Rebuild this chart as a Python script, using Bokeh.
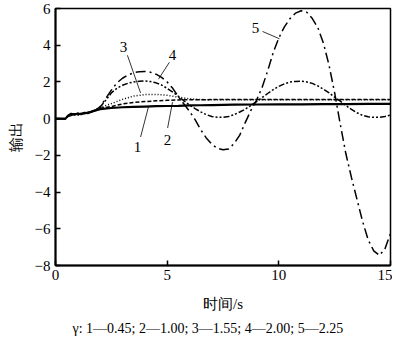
from bokeh.plotting import figure
from bokeh.models import Range1d, FixedTicker, Title
from bokeh.core.properties import value
from bokeh.embed import file_html
from bokeh.resources import INLINE

# ---- data ----
x_ticks = [0, 5, 10, 15]
y_ticks = [-8, -6, -4, -2, 0, 2, 4, 6]
y_tick_labels = ["\u22128", "\u22126", "\u22124", "\u22122", "0", "2", "4", "6"]

t_slow = [0, 0.45, 0.55, 0.7, 0.85, 1.0, 1.15, 1.3, 1.45, 1.6, 1.8, 2.0,
          2.5, 3.0, 3.5, 4.0, 4.5, 5.0, 5.5, 6.0, 6.5, 7.0, 8.0, 9.0,
          10.0, 11.0, 12.0, 13.0, 14.0, 15.0]

y1 = [0, 0, 0.15, 0.27, 0.22, 0.28, 0.24, 0.32, 0.30, 0.38, 0.45, 0.52,
      0.58, 0.62, 0.64, 0.66, 0.68, 0.69, 0.70, 0.72, 0.73, 0.74, 0.76, 0.77,
      0.78, 0.78, 0.79, 0.79, 0.80, 0.80]
y2 = [0, 0, 0.12, 0.17, 0.27, 0.20, 0.30, 0.26, 0.36, 0.35, 0.45, 0.56,
      0.66, 0.80, 0.88, 0.93, 0.97, 1.00, 1.02, 1.03, 1.03, 1.04, 1.04, 1.04,
      1.04, 1.04, 1.04, 1.04, 1.04, 1.04]
y3 = [0, 0, 0.15, 0.27, 0.22, 0.28, 0.24, 0.32, 0.30, 0.38, 0.46, 0.60,
      0.82, 1.05, 1.23, 1.31, 1.32, 1.27, 1.17, 1.08, 1.04, 1.03, 1.03, 1.03,
      1.03, 1.03, 1.03, 1.03, 1.03, 1.03]

t_fast = [0, 0.45, 0.55, 0.7, 0.85, 1.0, 1.15, 1.3, 1.45, 1.6, 1.8, 2.0,
          2.25, 2.5, 2.75, 3.0, 3.25, 3.5, 3.75, 4.0, 4.25, 4.5, 4.75, 5.0,
          5.25, 5.5, 5.75, 6.0, 6.25, 6.5, 6.75, 7.0, 7.25, 7.5, 7.75, 8.0,
          8.25, 8.5, 8.75, 9.0, 9.25, 9.5, 9.75, 10.0, 10.25, 10.5, 10.75, 11.0,
          11.25, 11.5, 11.75, 12.0, 12.25, 12.5, 12.75, 13.0, 13.25, 13.5, 13.75, 14.0,
          14.25, 14.5, 14.75, 15.0]

y4 = [0, 0, 0.12, 0.17, 0.27, 0.20, 0.30, 0.26, 0.36, 0.35, 0.47, 0.63,
      1.00, 1.40, 1.65, 1.82, 1.93, 2.00, 2.04, 2.05, 2.02, 1.95, 1.83, 1.65,
      1.45, 1.22, 0.97, 0.74, 0.55, 0.37, 0.22, 0.12, 0.07, 0.07, 0.12, 0.22,
      0.36, 0.52, 0.72, 0.93, 1.15, 1.37, 1.58, 1.76, 1.90, 1.99, 2.03, 2.04,
      2.00, 1.92, 1.78, 1.60, 1.40, 1.17, 0.95, 0.72, 0.50, 0.32, 0.18, 0.10,
      0.07, 0.07, 0.12, 0.20]
y5 = [0, 0, 0.15, 0.27, 0.22, 0.28, 0.24, 0.32, 0.30, 0.38, 0.47, 0.65,
      1.10, 1.55, 1.95, 2.20, 2.38, 2.50, 2.56, 2.57, 2.53, 2.42, 2.25, 2.00,
      1.65, 1.20, 0.80, 0.40, -0.05, -0.60, -1.05, -1.40, -1.62, -1.70, -1.65, -1.35,
      -0.90, -0.20, 0.45, 1.00, 1.70, 2.60, 3.60, 4.40, 5.00, 5.45, 5.75, 5.88,
      5.80, 5.45, 4.95, 4.10, 2.90, 1.40, -0.30, -1.90, -3.20, -4.40, -5.60, -6.60,
      -7.20, -7.45, -7.10, -6.25]

curve_labels = ["1", "2", "3", "4", "5"]
label_x = [3.67, 5.02, 3.05, 5.24, 8.96]
label_y = [-1.55, -1.16, 3.89, 3.45, 4.92]
leader_x0 = [3.81, 5.02, 3.22, 5.10, 9.27]
leader_y0 = [-1.00, -0.51, 3.45, 3.07, 4.75]
leader_x1 = [4.16, 5.24, 3.81, 4.61, 10.03]
leader_y1 = [0.63, 0.90, 1.40, 2.15, 4.35]

x_label = "时间/s"
y_label = "输出"
caption = "γ: 1—0.45; 2—1.00; 3—1.55; 4—2.00; 5—2.25"

# ---- figure ----
SERIF = "Liberation Serif"
p = figure(width=392, height=348, output_backend="svg", toolbar_location=None,
           x_range=Range1d(0, 15), y_range=Range1d(-8, 6),
           min_border_left=55, min_border_right=2, min_border_top=16,
           min_border_bottom=74)
p.margin = (-8, 0, 0, 0)
p.xgrid.visible = False
p.ygrid.visible = False
p.outline_line_color = "black"
p.outline_line_width = 1.5
p.background_fill_color = "white"
p.border_fill_color = "white"

for ax in (p.xaxis[0], p.yaxis[0]):
    ax.axis_line_width = 2
    ax.axis_line_color = "black"
    ax.major_tick_in = 5
    ax.major_tick_out = 0
    ax.major_tick_line_width = 1.5
    ax.minor_tick_line_color = None
    ax.major_label_text_font = SERIF
    ax.major_label_text_font_size = "15px"
    ax.major_label_text_color = "black"
    ax.axis_label_text_font = SERIF
    ax.axis_label_text_font_size = "15px"
    ax.axis_label_text_font_style = "normal"
    ax.axis_label_text_color = "black"

p.xaxis.ticker = FixedTicker(ticks=x_ticks)
p.yaxis.ticker = FixedTicker(ticks=y_ticks)
p.yaxis.major_label_overrides = {t: s for t, s in zip(y_ticks, y_tick_labels)}
p.xaxis.major_label_standoff = 4
p.yaxis.major_label_standoff = 5
p.xaxis.axis_label = x_label
p.xaxis.axis_label_standoff = 13
p.yaxis.axis_label = y_label
p.yaxis.axis_label_standoff = 8

p.line(t_slow, y1, line_color="black", line_width=2.2)
p.line(t_slow, y2, line_color="black", line_width=1.5, line_dash="4 2")
p.line(t_slow, y3, line_color="black", line_width=1.5, line_dash="1 2")
p.line(t_fast, y4, line_color="black", line_width=1.5, line_dash="6 2 2 2 2 2")
p.line(t_fast, y5, line_color="black", line_width=1.5, line_dash="10 4 2 4")

p.segment(leader_x0, leader_y0, leader_x1, leader_y1, line_color="black", line_width=0.8)
p.text(label_x, label_y, text=curve_labels, text_font=value(SERIF),
       text_font_size="15px", text_align="center", text_baseline="middle",
       text_color="black")

p.add_layout(Title(text=caption, text_font=SERIF, text_font_size="14px",
                   text_font_style="normal", text_color="black",
                   align="left", offset=17, standoff=9), "below")

open("out.html", "w").write(file_html(p, INLINE))
